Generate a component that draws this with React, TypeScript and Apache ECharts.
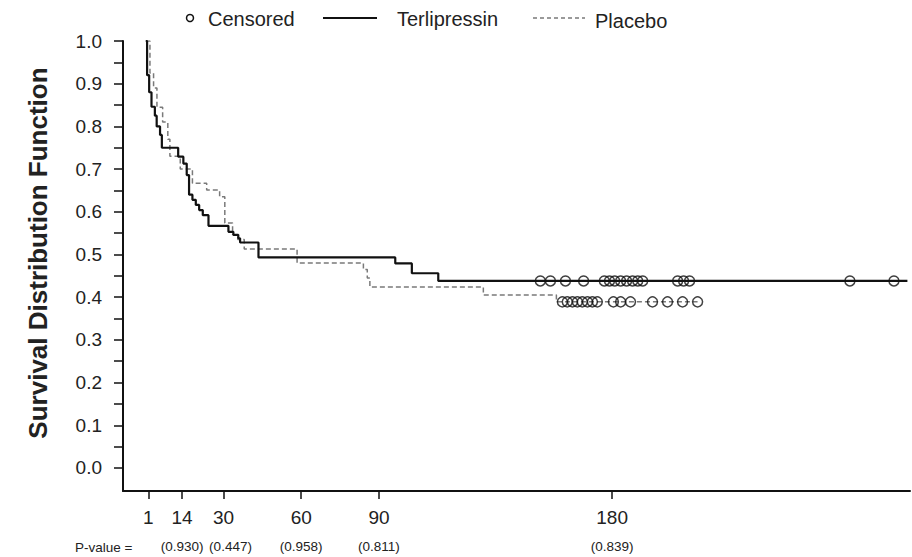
import React, { useEffect, useRef } from "react";
import * as echarts from "echarts";

// Kaplan-Meier step data (day at which survival becomes the given value)
const terliDays = [0, 0.5, 1.3, 2.2, 3.5, 4.2, 5.5, 6.2, 12.5, 14.5, 15.8, 16.7, 18, 19.3, 20.6, 22, 24.2, 31.9, 33.8, 35.7, 36.4, 43.5, 96.3, 102.7, 112.9, 294];
const terliSurv = [1.0, 0.92, 0.88, 0.846, 0.825, 0.8, 0.78, 0.75, 0.729, 0.713, 0.686, 0.64, 0.628, 0.616, 0.604, 0.592, 0.567, 0.553, 0.546, 0.538, 0.528, 0.493, 0.479, 0.456, 0.438, 0.438];

const placDays = [0, 1.6, 3, 4.3, 6.5, 8.5, 9.3, 13.3, 18, 23.5, 28.5, 30.5, 33.5, 35.5, 38, 58.4, 84, 85.5, 86.5, 130.3, 158.5, 213];
const placSurv = [1.0, 0.925, 0.89, 0.845, 0.81, 0.77, 0.73, 0.7, 0.667, 0.651, 0.635, 0.574, 0.546, 0.535, 0.513, 0.48, 0.465, 0.445, 0.424, 0.405, 0.389, 0.389];

const terliCensDays = [152.3, 156.2, 162, 169, 177, 179, 181, 183.3, 185.6, 187.9, 189.9, 191.8, 205.3, 207.6, 209.9, 271.8, 288.8];
const terliCensSurv = 0.438;
const placCensDays = [160.8, 162.7, 164.7, 166.6, 168.5, 170.5, 172.4, 174.3, 180.5, 183.3, 187.1, 195.6, 201.4, 207.2, 213];
const placCensSurv = 0.389;

const xTickDays = [1, 14, 30, 60, 90, 180];
const pValues = ["", "(0.930)", "(0.447)", "(0.958)", "(0.811)", "(0.839)"];
const yTickValues = [0, 0.05, 0.1, 0.15, 0.2, 0.25, 0.3, 0.35, 0.4, 0.45, 0.5, 0.55, 0.6, 0.65, 0.7, 0.75, 0.8, 0.85, 0.9, 0.95, 1.0];
const yLabelValues = [0, 0.1, 0.2, 0.3, 0.4, 0.5, 0.6, 0.7, 0.8, 0.9, 1.0];

const legendNames = ["Censored", "Terlipressin", "Placebo"];
const yTitle = "Survival Distribution Function";
const pLabel = "P-value =";

const FONT = '"Liberation Sans", Arial, Helvetica, sans-serif';
const INK = "#111";

export default function App() {
  const ref = useRef<HTMLDivElement>(null);
  useEffect(() => {
    if (!ref.current) return;
    const chart = echarts.init(ref.current, undefined, { renderer: "svg" });
    const option: any = {
      animation: false,
      backgroundColor: "#fff",
      textStyle: { fontFamily: FONT },
      grid: { left: 123, right: 2, top: 41, bottom: 66, containLabel: false },
      xAxis: {
        type: "value",
        min: -8.8,
        max: 295,
        axisLine: { show: true, onZero: false, lineStyle: { color: INK, width: 2 } },
        axisTick: { show: true, length: 8, customValues: xTickDays, lineStyle: { color: INK, width: 1.5 } },
        axisLabel: {
          customValues: xTickDays,
          margin: 14,
          color: "#222",
          fontFamily: FONT,
          formatter: (v: number) => {
            const i = xTickDays.indexOf(v);
            const p = i >= 0 && pValues[i] ? pValues[i] : "\u00a0";
            const style = v === 30 ? "q" : "p";
            return `{v|${v}}\n{${style}|${p}}`;
          },
          rich: {
            v: { fontSize: 19, lineHeight: 24, fontFamily: FONT, color: "#222" },
            p: { fontSize: 13.5, lineHeight: 34, fontFamily: FONT, color: "#222" },
            q: { fontSize: 13.5, lineHeight: 34, fontFamily: FONT, color: "#222", padding: [0, 0, 0, 14] },
          },
        },
        splitLine: { show: false },
      },
      yAxis: {
        type: "value",
        min: -0.054,
        max: 1.0,
        axisLine: { show: true, onZero: false, lineStyle: { color: INK, width: 2 } },
        axisTick: { show: true, length: 9, customValues: yTickValues, lineStyle: { color: INK, width: 1.5 } },
        axisLabel: {
          customValues: yLabelValues,
          margin: 21,
          fontSize: 19,
          color: "#222",
          fontFamily: FONT,
          formatter: (v: number) => v.toFixed(1),
        },
        splitLine: { show: false },
      },
      graphic: [
        { type: "circle", shape: { cx: 190, cy: 18, r: 3.5 }, style: { fill: "none", stroke: INK, lineWidth: 1.5 } },
        { type: "text", x: 208, y: 19, style: { text: legendNames[0], fontSize: 20, fontFamily: FONT, fill: "#222", align: "left", verticalAlign: "middle" } },
        { type: "line", shape: { x1: 323, y1: 18, x2: 377, y2: 18 }, style: { stroke: INK, lineWidth: 2 } },
        { type: "text", x: 397, y: 19, style: { text: legendNames[1], fontSize: 20, fontFamily: FONT, fill: "#222", align: "left", verticalAlign: "middle" } },
        { type: "line", shape: { x1: 533, y1: 18, x2: 585, y2: 18 }, style: { stroke: "#7a7a7a", lineWidth: 1.5, lineDash: [4, 3] } },
        { type: "text", x: 595, y: 21, style: { text: legendNames[2], fontSize: 20, fontFamily: FONT, fill: "#222", align: "left", verticalAlign: "middle" } },
        { type: "text", x: 38, y: 253, rotation: Math.PI / 2, style: { text: yTitle, fontSize: 26, fontWeight: "bold", fontFamily: FONT, fill: "#222", align: "center", verticalAlign: "middle" } },
        { type: "text", x: 75, y: 547, style: { text: pLabel, fontSize: 13.5, fontFamily: FONT, fill: "#222", align: "left", verticalAlign: "middle" } },
      ],
      series: [
        {
          type: "line",
          name: legendNames[2],
          step: "end",
          data: placDays.map((d, i) => [d, placSurv[i]]),
          symbol: "none",
          lineStyle: { color: "#7a7a7a", width: 1.5, type: [5, 3] },
          z: 2,
        },
        {
          type: "line",
          name: legendNames[1],
          step: "end",
          data: terliDays.map((d, i) => [d, terliSurv[i]]),
          symbol: "none",
          lineStyle: { color: INK, width: 2.2 },
          z: 3,
        },
        {
          type: "scatter",
          name: legendNames[0],
          data: terliCensDays.map((d) => [d, terliCensSurv]),
          symbol: "circle",
          symbolSize: 10,
          itemStyle: { color: "rgba(0,0,0,0)", borderColor: INK, borderWidth: 1.5 },
          z: 4,
        },
        {
          type: "scatter",
          name: legendNames[0] + " (Placebo)",
          data: placCensDays.map((d) => [d, placCensSurv]),
          symbol: "circle",
          symbolSize: 10,
          itemStyle: { color: "rgba(0,0,0,0)", borderColor: INK, borderWidth: 1.5 },
          z: 4,
        },
      ],
    };
    chart.setOption(option);
    return () => chart.dispose();
  }, []);
  return (
    <div
      ref={ref}
      style={{ position: "fixed", left: 0, top: 0, width: 912, height: 557, background: "#fff" }}
    />
  );
}
